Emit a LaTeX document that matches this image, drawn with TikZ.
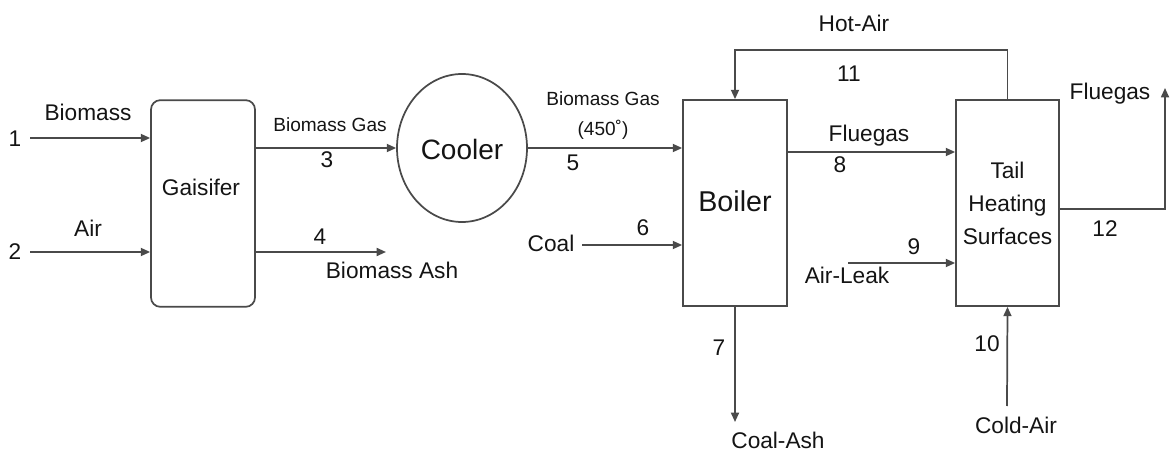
\documentclass[tikz,border=0pt]{standalone}
\usepackage{fontspec}
\setmainfont{Liberation Sans}
\usetikzlibrary{arrows.meta,shapes.geometric}
\definecolor{ln}{HTML}{4A4A4A}
\definecolor{tx}{HTML}{141414}
\begin{document}
\begin{tikzpicture}[x=0.75pt,y=-0.75pt,
 flow/.style={draw=ln,line width=1.3pt,-{Triangle[length=7pt,width=6pt]}},
 pipe/.style={draw=ln,line width=1.3pt},
 unit/.style={draw=ln,line width=1.3pt,inner sep=0pt,text=tx},
 lbl/.style={text=tx,font=\fontsize{17}{20}\selectfont,inner sep=0pt,text depth=0pt},
 sml/.style={text=tx,font=\fontsize{14.3}{17}\selectfont,inner sep=0pt,text depth=0pt},
 big/.style={text=tx,font=\fontsize{21.5}{25}\selectfont,inner sep=0pt,text depth=0pt}]
\useasboundingbox (0,0) rectangle (1171,452);

% units
\node[unit,rounded corners=7pt,minimum width=78pt,minimum height=155pt] (gas) at (203,203.5) {};
\node[lbl] (gastxt) at (201,187) {Gaisifer};
\node[unit,ellipse,minimum width=97.5pt,minimum height=111pt] (cool) at (462,148) {};
\node[big,font=\fontsize{21}{25}\selectfont] (cooltxt) at (462,149) {Cooler};
\node[unit,minimum width=78pt,minimum height=154.5pt] (boil) at (735,203) {};
\node[big] (boiltxt) at (735,201) {Boiler};
\node[unit,minimum width=77.25pt,minimum height=154.5pt,align=center,font=\fontsize{17}{24.75}\selectfont] (tail) at (1007.5,203) {Tail\\Heating\\Surfaces};

% free ends
\coordinate (s1) at (30,138);
\coordinate (s2) at (30,252);
\coordinate (e4) at (386,252);
\coordinate (s6) at (582,245);
\coordinate (s9) at (848,263);
\coordinate (e7) at (735,422);
\coordinate (s10) at (1007,406);
\coordinate (y12) at (0,209);
\coordinate (e12) at (1165,88);
\coordinate (y11) at (0,50);
\coordinate (y8) at (0,152);

% connectors
\draw[flow] (s1) -- (s1 -| gas.west);
\draw[flow] (s2) -- (s2 -| gas.west);
\draw[flow] (cool.west -| gas.east) -- (cool.west);
\draw[flow] (e4 -| gas.east) -- (e4);
\draw[flow] (cool.east) -- (cool.east -| boil.west);
\draw[flow] (s6) -- (s6 -| boil.west);
\draw[flow] (boil.south) -- (e7);
\draw[flow] (y8 -| boil.east) -- (y8 -| tail.west);
\draw[flow] (s9) -- (s9 -| tail.west);
\draw[flow] (s10) -- (tail.south);
\draw[flow] (tail.north) -- (y11 -| tail.north) -| (boil.north);
\draw[flow] (y12 -| tail.east) -| (e12);

% labels
\node[lbl] (n1) at (15,139) {1};
\node[lbl] (n2) at (15,252) {2};
\node[lbl] (lbio) at (88,112) {Biomass};
\node[lbl] (lair) at (88,228) {Air};
\node[sml] (lbg1) at (330,125) {Biomass Gas};
\node[lbl] (n3) at (327,160) {3};
\node[lbl] (n4) at (320,237) {4};
\node[lbl] (lash) at (392,270) {Biomass Ash};
\node[sml] (lbg2) at (603,99) {Biomass Gas};
\node[sml] (ltemp) at (603,128) {(450˚)};
\node[lbl] (n5) at (573,163) {5};
\node[lbl] (lcoal) at (551,243) {Coal};
\node[lbl] (n6) at (643,228) {6};
\node[lbl] (n7) at (719,348) {7};
\node[lbl] (lcash) at (778,440) {Coal-Ash};
\node[lbl] (lhot) at (854,23) {Hot-Air};
\node[lbl] (n11) at (849,74) {11};
\node[lbl] (lflue1) at (869,133) {Fluegas};
\node[lbl] (n8) at (840,165) {8};
\node[lbl] (n9) at (914,247) {9};
\node[lbl] (lleak) at (847,275) {Air-Leak};
\node[lbl] (n10) at (987,344) {10};
\node[lbl] (lcold) at (1016,425) {Cold-Air};
\node[lbl] (n12) at (1105,229) {12};
\node[lbl] (lflue2) at (1110,91) {Fluegas};
\end{tikzpicture}
\end{document}
